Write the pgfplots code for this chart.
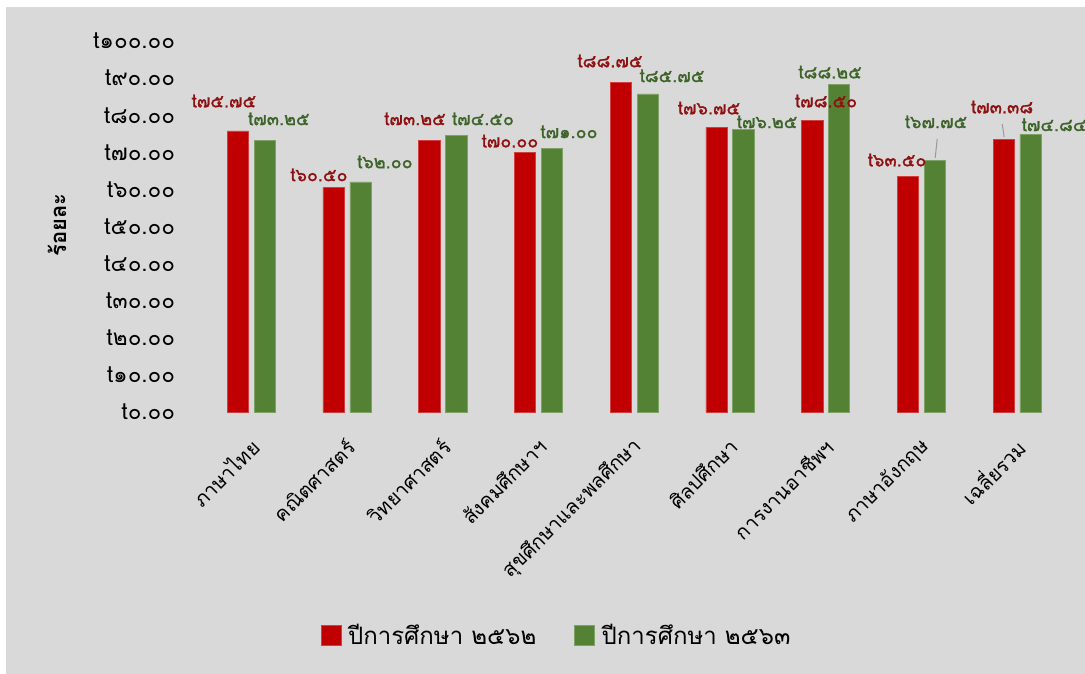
\documentclass[border=0pt]{standalone}
\usepackage{fontspec}
\setmainfont{Loma}[Script=Thai]
\newfontfamily\thaifont[Script=Thai]{Loma}
\newfontfamily\thaisemi[Script=Thai,FakeBold=1.2]{Loma}
\usepackage{pgfplots}
\pgfplotsset{compat=1.18}
\definecolor{bg}{HTML}{D9D9D9}
\definecolor{bar62}{HTML}{C00000}
\definecolor{bar63}{HTML}{548235}
\definecolor{lab62}{HTML}{8E1010}
\definecolor{lab63}{HTML}{3D6328}
\newcommand{\ytickfont}{\thaifont\fontsize{22.5bp}{24bp}\selectfont}
\newcommand{\xtickfont}{\thaifont\fontsize{20bp}{22bp}\selectfont}
\newcommand{\labfont}{\thaisemi\fontsize{18bp}{20bp}\selectfont}

\begin{document}
\begin{tikzpicture}
\path[use as bounding box] (0,0) rectangle (1085bp,674bp);
\fill[white] (0,0) rectangle (1085bp,674bp);
\fill[bg] (6bp,0) rectangle (1085bp,667bp);
\begin{axis}[
    at={(203.4bp,262bp)}, anchor=south west,
    scale only axis, width=861.6bp, height=371bp,
    xmin=-0.5, xmax=8.5, ymin=0, ymax=100,
    ybar=5.6bp, bar width=21.3bp,
    axis line style={draw=none},
    major tick length=0pt,
    xtick={0,...,8},
    xticklabels={ภาษาไทย, คณิตศาสตร์, วิทยาศาสตร์, สังคมศึกษาฯ, สุขศึกษาและพลศึกษา, ศิลปศึกษา, การงานอาชีพฯ, ภาษาอังกฤษ, เฉลี่ยรวม},
    xticklabel style={font=\xtickfont, xshift=4bp, yshift=-31bp, rotate=45, anchor=east, inner sep=0pt},
    ytick={0,10,...,100},
    yticklabels={t๐.๐๐, t๑๐.๐๐, t๒๐.๐๐, t๓๐.๐๐, t๔๐.๐๐, t๕๐.๐๐, t๖๐.๐๐, t๗๐.๐๐, t๘๐.๐๐, t๙๐.๐๐, t๑๐๐.๐๐},
    yticklabel style={font=\ytickfont, anchor=east, inner sep=0pt, xshift=-28bp},
    ylabel={ร้อยละ},
    ylabel style={font=\thaifont\bfseries\fontsize{22bp}{24bp}\selectfont, at={(axis description cs:-0.170,0.504)}, anchor=center},
    legend columns=2,
    legend style={at={(axis description cs:0.410,-0.601)}, anchor=center, draw=none, fill=none,
        font=\thaifont\fontsize{24bp}{26bp}\selectfont,
        /tikz/every even column/.append style={column sep=36bp}},
    legend image code/.code={\fill[#1] (0bp,-10bp) rectangle (20bp,10bp); \path[draw=none,fill=none] (25bp,0bp);},
    clip=false,
]
\addplot[fill=bar62, draw=bar62!75!white, line width=0.6bp] coordinates {
    (0,75.75) (1,60.50) (2,73.25) (3,70.00) (4,88.75) (5,76.75) (6,78.50) (7,63.50) (8,73.38)};
\addplot[fill=bar63, draw=bar63!75!white, line width=0.6bp] coordinates {
    (0,73.25) (1,62.00) (2,74.50) (3,71.00) (4,85.75) (5,76.25) (6,88.25) (7,67.75) (8,74.84)};
\legend{ปีการศึกษา ๒๕๖๒, ปีการศึกษา ๒๕๖๓}

% data labels
\draw[gray!80, line width=1bp] (axis cs:7.165,73.6) -- (axis cs:7.144,68.5);
\draw[gray!80, line width=1bp] (axis cs:7.844,77.6) -- (axis cs:7.865,74.1);
\begin{scope}[every node/.style={font=\labfont, inner sep=0pt}]
\node[text=lab62] at (axis cs:-0.285,83.8) {t๗๕.๗๕};
\node[text=lab63] at (axis cs:0.289,79.0) {t๗๓.๒๕};
\node[text=lab62] at (axis cs:0.708,63.9) {t๖๐.๕๐};
\node[text=lab63] at (axis cs:1.397,67.4) {t๖๒.๐๐};
\node[text=lab62] at (axis cs:1.711,79.0) {t๗๓.๒๕};
\node[text=lab63] at (axis cs:2.421,79.0) {t๗๔.๕๐};
\node[text=lab62] at (axis cs:2.703,73.0) {t๗๐.๐๐};
\node[text=lab63] at (axis cs:3.320,75.5) {t๗๑.๐๐};
\node[text=lab62] at (axis cs:3.748,94.6) {t๘๘.๗๕};
\node[text=lab63] at (axis cs:4.396,90.6) {t๘๕.๗๕};
\node[text=lab62] at (axis cs:4.782,81.9) {t๗๖.๗๕};
\node[text=lab63] at (axis cs:5.389,78.2) {t๗๖.๒๕};
\node[text=lab62] at (axis cs:6.005,83.8) {t๗๘.๕๐};
\node[text=lab63] at (axis cs:6.047,91.6) {t๘๘.๒๕};
\node[text=lab62] at (axis cs:6.747,67.9) {t๖๓.๕๐};
\node[text=lab63] at (axis cs:7.154,78.2) {t๖๗.๗๕};
\node[text=lab62] at (axis cs:7.844,82.2) {t๗๓.๓๘};
\node[text=lab63] at (axis cs:8.387,77.4) {t๗๔.๘๔};
\end{scope}
\end{axis}
\end{tikzpicture}
\end{document}
